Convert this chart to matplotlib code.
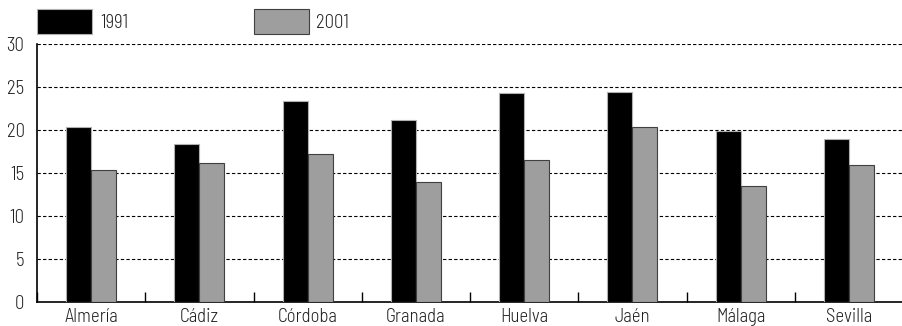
import matplotlib
matplotlib.use("Agg")
import matplotlib.pyplot as plt
from matplotlib.patches import Rectangle
import numpy as np

categories = ["Almería", "Cádiz", "Córdoba", "Granada", "Huelva", "Jaén", "Málaga", "Sevilla"]
values_1991 = [20.4, 18.4, 23.4, 21.2, 24.3, 24.4, 19.9, 18.9]
values_2001 = [15.3, 16.2, 17.2, 14.0, 16.5, 20.4, 13.45, 15.9]
series_labels = ["1991", "2001"]
yticks = [0, 5, 10, 15, 20, 25, 30]

plt.rcParams['font.family'] = ['Barlow Semi Condensed', 'DejaVu Sans']
plt.rcParams['font.weight'] = 300

fig = plt.figure(figsize=(9.02, 3.26), dpi=100)
ax = fig.add_axes([37/902, 1-302/326, 866/902, 258/326])

x = np.arange(len(categories))
w = 0.23
ax.bar(x - w/2, values_1991, width=w, color="black", edgecolor="#b0b0b0", linewidth=0.8, zorder=3)
ax.bar(x + w/2, values_2001, width=w, color="#9e9e9e", edgecolor="#404040", linewidth=0.8, zorder=3)

ax.set_xlim(-0.5, len(categories) - 0.5)
ax.set_ylim(0, 30)
ax.set_yticks(yticks)
ax.set_yticklabels([str(v) for v in yticks], fontsize=13.5, color="#222222")
ax.tick_params(axis="y", length=0, pad=9)
for v in yticks[1:]:
    ax.axhline(v, color="black", linestyle=(0, (3, 2)), linewidth=0.8, zorder=1)

ax.set_xticks(x)
ax.set_xticklabels(categories, fontsize=13.5, color="#222222")
ax.tick_params(axis="x", length=0, pad=4)
ax.set_xticks(np.arange(len(categories) + 1) - 0.5, minor=True)
ax.tick_params(axis="x", which="minor", direction="in", length=7, width=1, color="black")

for s in ["top", "right"]:
    ax.spines[s].set_visible(False)
ax.spines["left"].set_linewidth(1.2)
ax.spines["bottom"].set_linewidth(1.2)

fig.patches.append(Rectangle((37/902, 1-34/326), 55/902, 25/326, transform=fig.transFigure,
                             facecolor="black", edgecolor="#b0b0b0", linewidth=0.8))
fig.patches.append(Rectangle((254/902, 1-34/326), 55/902, 25/326, transform=fig.transFigure,
                             facecolor="#9e9e9e", edgecolor="#404040", linewidth=0.8))
fig.text(100/902, 1-23/326, series_labels[0], fontsize=13.5, va="center", ha="left", color="#222222")
fig.text(316/902, 1-23/326, series_labels[1], fontsize=13.5, va="center", ha="left", color="#222222")

fig.savefig("out.png", dpi=100)
